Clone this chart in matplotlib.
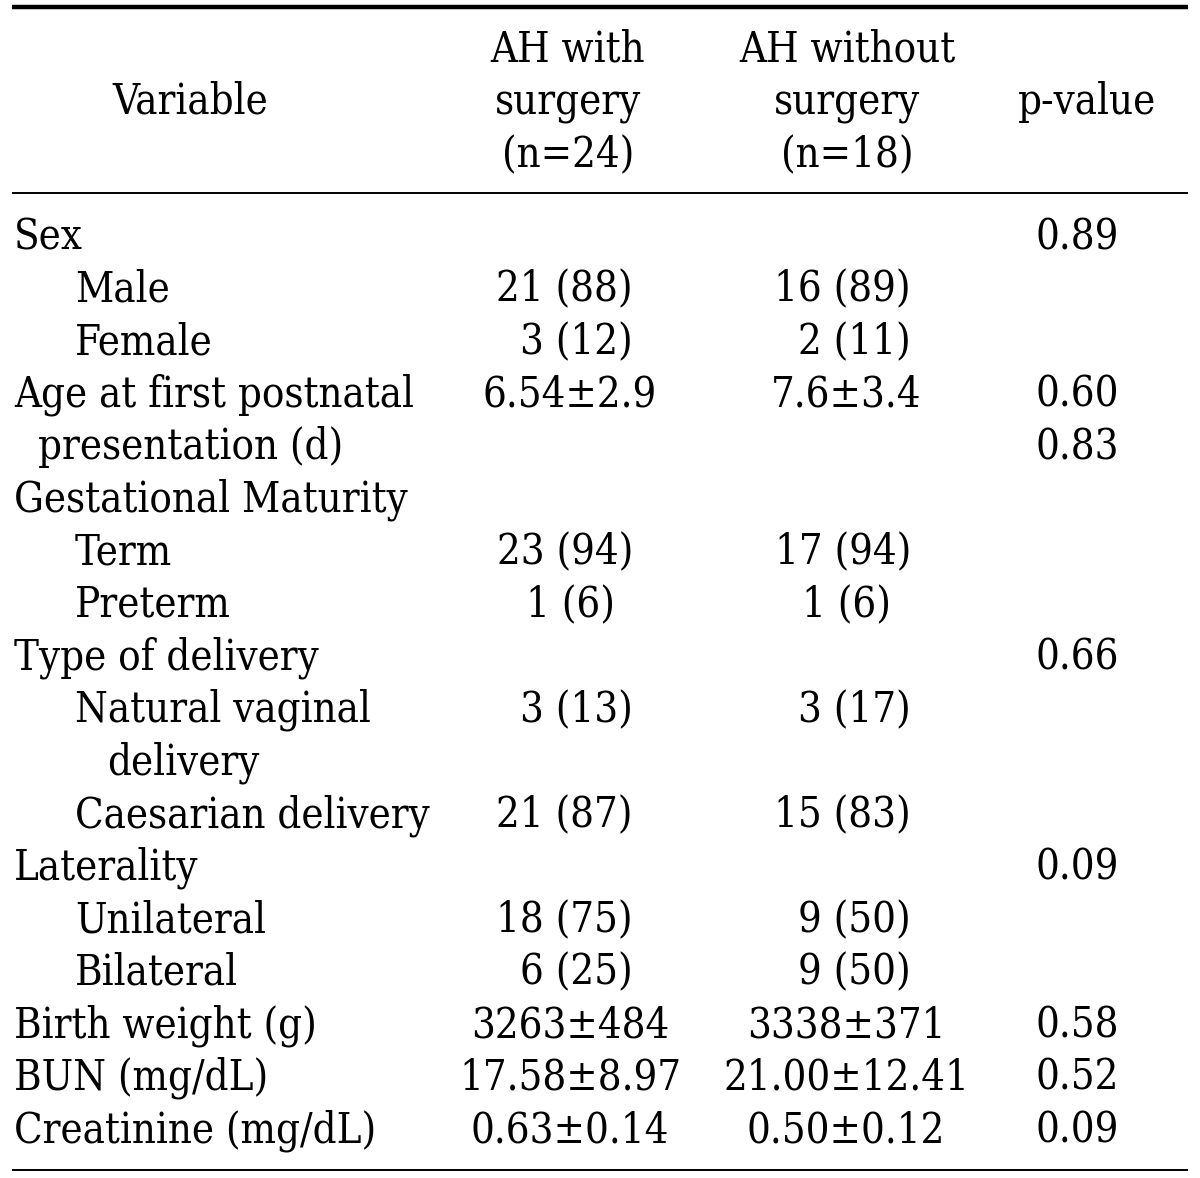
import re
import matplotlib.pyplot as plt

# table contents
variables = ["Sex", "Male", "Female", "Age at first postnatal", "presentation (d)",
             "Gestational Maturity", "Term", "Preterm", "Type of delivery",
             "Natural vaginal", "delivery", "Caesarian delivery", "Laterality",
             "Unilateral", "Bilateral", "Birth weight (g)", "BUN (mg/dL)",
             "Creatinine (mg/dL)"]
indent = [0, 2, 2, 0, 1, 0, 2, 2, 0, 2, 3, 2, 0, 2, 2, 0, 0, 0]
with_surgery = ["", "21 (88)", "3 (12)", "6.54±2.9", "", "", "23 (94)", "1 (6)", "",
                "3 (13)", "", "21 (87)", "", "18 (75)", "6 (25)", "3263±484",
                "17.58±8.97", "0.63±0.14"]
without_surgery = ["", "16 (89)", "2 (11)", "7.6±3.4", "", "", "17 (94)", "1 (6)", "",
                   "3 (17)", "", "15 (83)", "", "9 (50)", "9 (50)", "3338±371",
                   "21.00±12.41", "0.50±0.12"]
p_values = ["0.89", "", "", "0.60", "0.83", "", "", "", "0.66", "", "", "", "0.09",
            "", "", "0.58", "0.52", "0.09"]
headers = ["Variable", "AH with\nsurgery\n(n=24)", "AH without\nsurgery\n(n=18)", "p-value"]

W, H = 1200, 1178
fig = plt.figure(figsize=(W / 100, H / 100), dpi=100)
ax = fig.add_axes([0, 0, 1, 1])
ax.set_xlim(0, W)
ax.set_ylim(H, 0)
ax.axis("off")

font = dict(family="DejaVu Serif", fontstretch="condensed", size=30, color="black")

# rules
ax.plot([12, 1188], [7, 7], color="black", lw=3.2, solid_capstyle="butt")
ax.plot([12, 1188], [193, 193], color="black", lw=1.4, solid_capstyle="butt")
ax.plot([12, 1188], [1170, 1170], color="black", lw=1.4, solid_capstyle="butt")

# header
ax.text(190, 114, headers[0], ha="center", va="baseline", **font)
ax.text(1087, 114, headers[3], ha="center", va="baseline", **font)
for cx, txt in [(568, headers[1]), (847, headers[2])]:
    for k, line in enumerate(txt.split("\n")):
        ax.text(cx, 61 + k * 53, line, ha="center", va="baseline", **font)

# body
indent_x = {0: 14, 1: 38, 2: 75, 3: 107}
col_right = [633, 911]
col_center = [570, 846]
for i, name in enumerate(variables):
    y = 249 + i * 52.55
    ax.text(indent_x[indent[i]], y, name, ha="left", va="baseline", **font)
    for c, vals in enumerate([with_surgery, without_surgery]):
        s = vals[i]
        if not s:
            continue
        if re.search(r"\(\d\d\)", s):
            ax.text(col_right[c], y, s, ha="right", va="baseline", **font)
        else:
            ax.text(col_center[c], y, s, ha="center", va="baseline", **font)
    if p_values[i]:
        ax.text(1035, y, p_values[i], ha="left", va="baseline", **font)

fig.savefig("out.png", dpi=100, facecolor="white")
